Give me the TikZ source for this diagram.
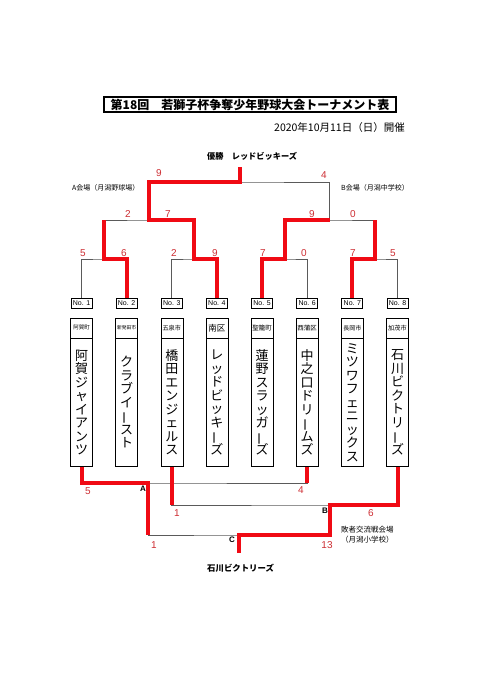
\documentclass[tikz,border=0pt]{standalone}
\usepackage{fontspec}
\setmainfont{Liberation Sans}
\newfontfamily\jp{Noto Sans CJK JP}
\usetikzlibrary{positioning,calc}
\definecolor{winred}{RGB}{240,10,20}
\definecolor{scred}{RGB}{205,45,50}
\definecolor{lngray}{RGB}{90,90,90}
\newcommand\vb{\raisebox{0pt}[0.85em][0.1em]{\rotatebox[origin=c]{90}{ー}}}

\begin{document}
\begin{tikzpicture}[x=1pt, y=-1pt,
      every node/.style={font=\jp},
      nb/.style={draw, line width=1pt, minimum width=21pt, minimum height=10pt,
                 inner sep=0pt, font=\fontsize{7}{7}\selectfont},
      pf/.style={draw, line width=0.6pt, minimum width=22pt, minimum height=20pt,
                 inner sep=0pt, below=9pt of #1},
      tm/.style={draw, line width=0.6pt, minimum width=22pt, minimum height=128pt,
                 inner sep=0pt, align=center, below=0pt of #1,
                 font=\jp\fontsize{13}{13.5}\selectfont},
      sc/.style={text=scred, inner sep=0pt, font=\fontsize{10}{10}\selectfont},
      lt/.style={inner sep=0pt, font=\bfseries\fontsize{8}{8}\selectfont},
      gl/.style={draw=lngray, line width=0.8pt},
      rl/.style={draw=winred, line width=4pt}
    ]
    \useasboundingbox (0,0) rectangle (480,679);
    % heading
    \node[draw, line width=1.5pt, minimum width=292pt, minimum height=15pt, inner sep=0pt,
          font=\jp\bfseries\fontsize{12}{12}\selectfont] (title) at (250,104.5)
          {第18回　若獅子杯争奪少年野球大会トーナメント表};
    \node[anchor=east, inner sep=0pt, font=\jp\fontsize{10.5}{10.5}\selectfont] (date) at (405,128)
          {2020年10月11日（日）開催};
    \node[anchor=west, inner sep=0pt, font=\jp\bfseries\fontsize{8.2}{8.2}\selectfont] (champ) at (207,156)
          {優勝　レッドビッキーズ};
    \node[anchor=west, inner sep=0pt, font=\jp\fontsize{7}{7}\selectfont] (venA) at (72,188) {A会場（月潟野球場）};
    \node[anchor=west, inner sep=0pt, font=\jp\fontsize{7}{7}\selectfont] (venB) at (341,188) {B会場（月潟中学校）};
    % entry numbers
    \node[nb] (n1) at (81.5,303) {No. 1};
    \node[nb] (n2) at (126.6,303) {No. 2};
    \node[nb] (n3) at (171.8,303) {No. 3};
    \node[nb] (n4) at (216.9,303) {No. 4};
    \node[nb] (n5) at (262.1,303) {No. 5};
    \node[nb] (n6) at (307.2,303) {No. 6};
    \node[nb] (n7) at (352.4,303) {No. 7};
    \node[nb] (n8) at (397.5,303) {No. 8};
    % home towns
    \node[pf=n1, font=\jp\fontsize{5.5}{5.5}\selectfont] (p1) {阿賀町};
    \node[pf=n2, font=\jp\fontsize{4.8}{4.8}\selectfont] (p2) {新発田市};
    \node[pf=n3, font=\jp\fontsize{6.2}{6.2}\selectfont] (p3) {五泉市};
    \node[pf=n4, font=\jp\fontsize{8.5}{8.5}\selectfont] (p4) {南区};
    \node[pf=n5, font=\jp\fontsize{6.5}{6.5}\selectfont] (p5) {聖籠町};
    \node[pf=n6, font=\jp\fontsize{6.5}{6.5}\selectfont] (p6) {西蒲区};
    \node[pf=n7, font=\jp\fontsize{6}{6}\selectfont] (p7) {長岡市};
    \node[pf=n8, font=\jp\fontsize{6.2}{6.2}\selectfont] (p8) {加茂市};
    % teams (vertical names)
    \node[tm=p1] (t1) {阿\\賀\\ジ\\ャ\\イ\\ア\\ン\\ツ};
    \node[tm=p2] (t2) {ク\\ラ\\ブ\\イ\\\vb\\ス\\ト};
    \node[tm=p3] (t3) {橋\\田\\エ\\ン\\ジ\\ェ\\ル\\ス};
    \node[tm=p4] (t4) {レ\\ッ\\ド\\ビ\\ッ\\キ\\\vb\\ズ};
    \node[tm=p5] (t5) {蓮\\野\\ス\\ラ\\ッ\\ガ\\\vb\\ズ};
    \node[tm=p6] (t6) {中\\之\\口\\ド\\リ\\\vb\\ム\\ズ};
    \node[tm=p7] (t7) {ミ\\ツ\\ワ\\フ\\ェ\\ニ\\ッ\\ク\\ス};
    \node[tm=p8] (t8) {石\\川\\ビ\\ク\\ト\\リ\\\vb\\ズ};
    % main bracket joints
    \coordinate (q12) at (104.1,259); \coordinate (q34) at (194.4,259);
    \coordinate (q56) at (284.7,259); \coordinate (q78) at (375,259);
    \coordinate (s1) at (149.2,220);  \coordinate (s2) at (329.8,220);
    \coordinate (fn) at (239.5,182);  \coordinate (ch) at (239.5,167);
    % loser bracket joints
    \coordinate (ja) at (148,483); \coordinate (jb) at (329.5,505);
    \coordinate (jc) at (238.5,535); \coordinate (cw) at (238.5,553);
    % bracket lines
    \draw[gl] (n1.north) |- (q12) -| (n2.north);
    \draw[gl] (n3.north) |- (q34) -| (n4.north);
    \draw[gl] (n5.north) |- (q56) -| (n6.north);
    \draw[gl] (n7.north) |- (q78) -| (n8.north);
    \draw[gl] (q12) |- (s1) -| (q34);
    \draw[gl] (q56) |- (s2) -| (q78);
    \draw[gl] (s1) |- (fn) -| (s2);
    \draw[gl] (t1.south) |- (ja) -| (t6.south);
    \draw[gl] (t3.south) |- (jb) -| (t8.south);
    \draw[gl] (ja) |- (jc) -| (jb);
    % winners
    \draw[rl] (n2.north) |- (q12) -- (q12 |- s1);
    \draw[rl] (n4.north) |- (q34) |- (s1) |- (fn) -- (ch);
    \draw[rl] (n5.north) |- (q56) |- (s2);
    \draw[rl] (n7.north) |- (q78) -- (q78 |- s2);
    \draw[rl] (t1.south) |- (ja) -- (ja |- jc);
    \draw[rl] (t6.south) -- (t6.south |- ja);
    \draw[rl] (t3.south) -- (t3.south |- jb);
    \draw[rl] (t8.south) |- (jb) |- (jc) -- (cw);
    % scores
    \node[sc] (a1) at (83,253) {5};  \node[sc] (a2) at (124,253) {6};
    \node[sc] (a3) at (174,253) {2}; \node[sc] (a4) at (215,253) {9};
    \node[sc] (a5) at (263,253) {7}; \node[sc] (a6) at (304,253) {0};
    \node[sc] (a7) at (353,253) {7}; \node[sc] (a8) at (393,253) {5};
    \node[sc] (b1) at (128,214) {2}; \node[sc] (b2) at (168,214) {7};
    \node[sc] (b3) at (312,214) {9}; \node[sc] (b4) at (353,214) {0};
    \node[sc] (c1) at (159,173) {9}; \node[sc] (c2) at (324,175) {4};
    \node[sc] (d1) at (88,491) {5};  \node[sc] (d2) at (301,490) {4};
    \node[sc] (d3) at (177,513) {1}; \node[sc] (d4) at (371,513) {6};
    \node[sc] (d5) at (154,545) {1}; \node[sc] (d6) at (327,545) {13};
    % match letters
    \node[lt] (mA) at (143,489) {A};
    \node[lt] (mB) at (325,511) {B};
    \node[lt] (mC) at (232,540) {C};
    % consolation
    \node[anchor=west, inner sep=0pt, align=left, font=\jp\fontsize{7.5}{10}\selectfont] (venC) at (341,535)
          {敗者交流戦会場\\（月潟小学校）};
    \node[anchor=west, inner sep=0pt, font=\jp\bfseries\fontsize{8.4}{8.4}\selectfont] (lc) at (207,568)
          {石川ビクトリーズ};
  \end{tikzpicture}
\end{document}
